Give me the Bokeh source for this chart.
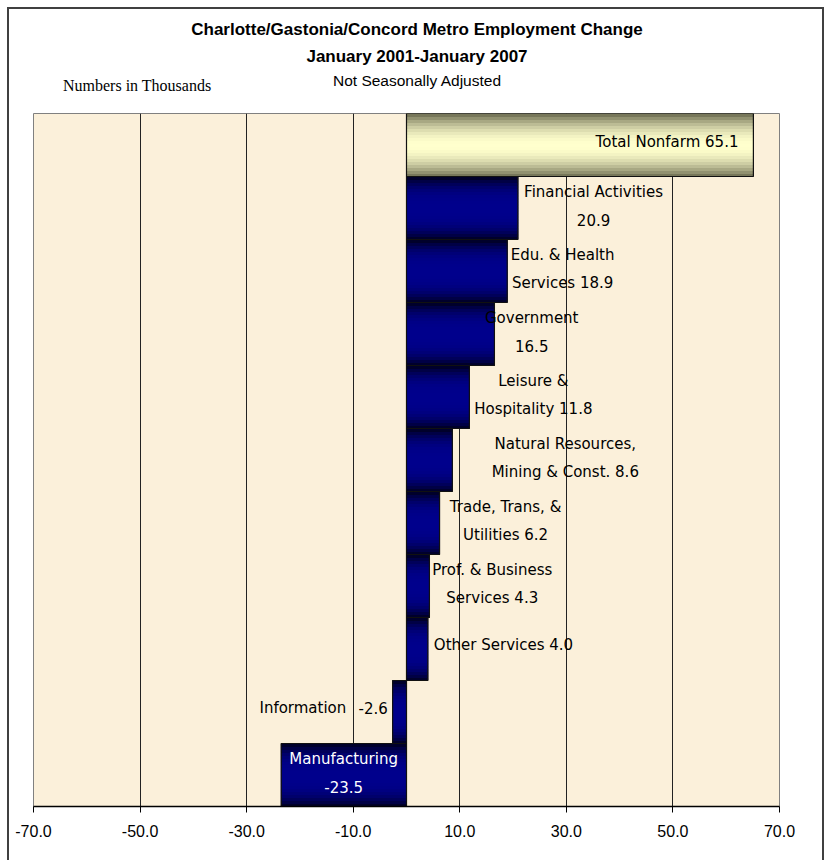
from bokeh.plotting import figure
from bokeh.models import ColumnDataSource, FixedTicker, PrintfTickFormatter, Div
from bokeh.layouts import column
from bokeh.core.properties import value
from bokeh.embed import file_html
from bokeh.resources import INLINE

# ---------------- data ----------------
categories = ["Total Nonfarm", "Financial Activities", "Edu. & Health Services", "Government",
              "Leisure & Hospitality", "Natural Resources, Mining & Const.",
              "Trade, Trans, & Utilities", "Prof. & Business Services", "Other Services",
              "Information", "Manufacturing"]
changes = [65.1, 20.9, 18.9, 16.5, 11.8, 8.6, 6.2, 4.3, 4.0, -2.6, -23.5]
x_ticks = [-70, -50, -30, -10, 10, 30, 50, 70]

# label texts (first line / prefix of second line)
label_line1 = ["Total Nonfarm", "Financial Activities", "Edu. & Health", "Government", "Leisure &",
               "Natural Resources,", "Trade, Trans, &", "Prof. & Business", "Other Services",
               "Information", "Manufacturing"]
label_line2 = ["", "", "Services", "", "Hospitality", "Mining & Const.", "Utilities", "Services",
               "", "", ""]
label_kind = ["single_right", "two", "two", "two", "two", "two", "two", "two", "single", "split", "two"]

title_1 = "Charlotte/Gastonia/Concord Metro Employment Change"
title_2 = "January 2001-January 2007"
title_3 = "Not Seasonally Adjusted"
units_note = "Numbers in Thousands"

# ---------------- layout / style ----------------
label_dx = [-2.8, 14.2, 10.4, 7.0, 12.0, 21.2, 12.4, 11.8, 14.2, -8.7, 11.7]
info_value_dx = -6.4
label_color = ["black"] * 10 + ["white"]
FONT_LBL = "'DejaVu Sans', Verdana, sans-serif"
FONT_AX = "'Liberation Sans', Arial, sans-serif"
BG = "#FBF0DA"

n = len(categories)
ypos = [n - 1 - i for i in range(n)]

W = 813
HEAD = 103
H = 851 - HEAD
p = figure(width=W, height=H, x_range=(-70, 70), y_range=(-0.5, n - 0.5),
           output_backend="svg", toolbar_location=None, y_axis_location=None,
           min_border_left=24, min_border_right=43, min_border_top=1, min_border_bottom=54)
p.background_fill_color = BG
p.border_fill_color = "white"
p.outline_line_color = "#808080"
p.outline_line_width = 1

# grid
p.xgrid.ticker = FixedTicker(ticks=x_ticks)
p.xgrid.grid_line_color = "#222222"
p.xgrid.grid_line_width = 1
p.ygrid.grid_line_color = None

# x axis
p.xaxis.ticker = FixedTicker(ticks=x_ticks)
p.xaxis.formatter = PrintfTickFormatter(format="%.1f")
p.xaxis.axis_line_color = "black"
p.xaxis.axis_line_width = 1.5
p.xaxis.major_tick_line_color = "black"
p.xaxis.major_tick_out = 6
p.xaxis.major_tick_in = 0
p.xaxis.minor_tick_line_color = None
p.xaxis.major_label_text_font = FONT_AX
p.xaxis.major_label_text_font_size = "16px"
p.xaxis.major_label_text_color = "black"
p.xaxis.major_label_standoff = 12

# ---------------- gradient bars ----------------
S = 21
def mix(c0, c1, f):
    return "#%02x%02x%02x" % tuple(int(round(a + (b - a) * f)) for a, b in zip(c0, c1))

gy, gr, gh, gc = [], [], [], []
for i, v in enumerate(changes):
    khaki = (i == 0)
    for k in range(S):
        t = (k + 0.5) / S
        d = abs(2 * t - 1)
        if khaki:
            f = 1 - d ** 2
            col = mix((105, 105, 78), (255, 255, 205), f)
        else:
            f = 1 - d ** 3
            col = mix((0, 0, 28), (0, 0, 140), f)
        gy.append(ypos[i] - 0.5 + t)
        gr.append(v)
        gh.append(1.0 / S)
        gc.append(col)

gsrc = ColumnDataSource(dict(y=gy, right=gr, h=gh, c=gc))
p.hbar(y="y", left=0, right="right", height="h", fill_color="c", line_color="c",
       line_width=1, source=gsrc)

osrc = ColumnDataSource(dict(y=ypos, right=changes))
p.hbar(y="y", left=0, right="right", height=1.0, fill_color=None, line_color="#111111",
       line_width=1.2, source=osrc)

# ---------------- data labels ----------------
tx, ty, tt, ta, tcol = [], [], [], [], []
for i, v in enumerate(changes):
    vs = "%.1f" % v
    x = v + label_dx[i]
    y = ypos[i]
    kind = label_kind[i]
    if kind == "single_right":
        tx.append(x); ty.append(y + 0.05); tt.append(label_line1[i] + " " + vs); ta.append("right"); tcol.append(label_color[i])
    elif kind == "single":
        tx.append(x); ty.append(y + 0.06); tt.append(label_line1[i] + " " + vs); ta.append("center"); tcol.append(label_color[i])
    elif kind == "split":
        tx.append(x); ty.append(y + 0.06); tt.append(label_line1[i]); ta.append("right"); tcol.append(label_color[i])
        tx.append(v + info_value_dx); ty.append(y + 0.06); tt.append(vs); ta.append("left"); tcol.append(label_color[i])
    else:
        l2 = (label_line2[i] + " " + vs).strip()
        tx.append(x); ty.append(y + 0.25); tt.append(label_line1[i]); ta.append("center"); tcol.append(label_color[i])
        tx.append(x); ty.append(y - 0.19); tt.append(l2); ta.append("center"); tcol.append(label_color[i])

lsrc = ColumnDataSource(dict(x=tx, y=ty, t=tt, a=ta, c=tcol))
p.text(x="x", y="y", text="t", text_align="a", text_color="c", text_baseline="middle",
       text_font=value(FONT_LBL), text_font_size="15px", source=lsrc)

# ---------------- heading ----------------
head_html = (
    "<div style=\"position:relative;width:%dpx;height:%dpx;font-family:'Liberation Sans',Arial,sans-serif;color:black;\">"
    "<div style='position:absolute;left:0;top:11px;width:816px;line-height:20px;text-align:center;font-weight:bold;font-size:17px;'>%s</div>"
    "<div style='position:absolute;left:0;top:38px;width:816px;line-height:20px;text-align:center;font-weight:bold;font-size:17px;'>%s</div>"
    "<div style='position:absolute;left:208px;top:62px;width:400px;line-height:20px;text-align:center;font-size:15.5px;'>%s</div>"
    "<div style=\"position:absolute;left:54px;top:67px;line-height:20px;font-family:'Liberation Serif','Times New Roman',serif;font-size:16px;white-space:nowrap;\">%s</div>"
    "</div>"
) % (W, HEAD, title_1, title_2, title_3, units_note)
head = Div(text=head_html, width=W, height=HEAD, styles={"margin": "0", "padding": "0"})

layout = column(head, p, spacing=0)
layout.styles = {"margin-left": "7px", "margin-top": "7px",
                 "border-left": "2px solid #404040", "border-top": "2px solid #404040",
                 "border-right": "2px solid #404040", "background-color": "white"}

open("out.html", "w").write(file_html(layout, INLINE))
